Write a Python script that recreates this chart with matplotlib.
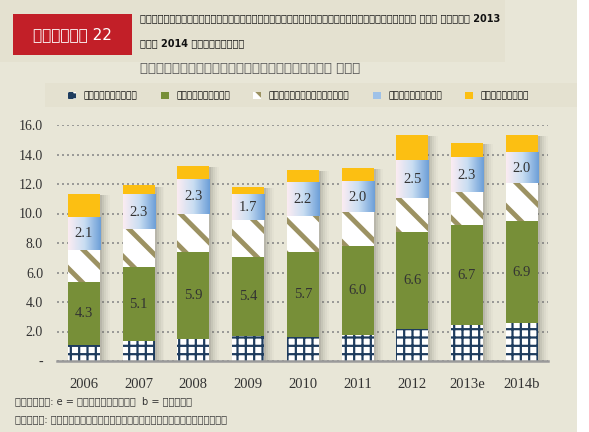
import numpy as np
import matplotlib
matplotlib.use('Agg')
import matplotlib.pyplot as plt
from matplotlib.colors import LinearSegmentedColormap
from matplotlib.patches import Rectangle, Patch

# --- data ---------------------

years = ['2006', '2007', '2008', '2009', '2010', '2011', '2012', '2013e', '2014b']

direct_tax = [1.06, 1.36, 1.49, 1.70, 1.63, 1.77, 2.17, 2.42, 2.56]
indirect_tax = [4.30, 5.00, 5.90, 5.35, 5.75, 6.00, 6.56, 6.79, 6.92]
trade_tax = [2.17, 2.58, 2.58, 2.51, 2.44, 2.31, 2.31, 2.24, 2.58]
non_tax = [2.18, 2.31, 2.37, 1.71, 2.26, 2.04, 2.51, 2.31, 2.04]
other = [1.62, 0.66, 0.89, 0.54, 0.86, 0.95, 1.77, 1.02, 1.22]

indirect_labels = ['4.3', '5.1', '5.9', '5.4', '5.7', '6.0', '6.6', '6.7', '6.9']
non_tax_labels = ['2.1', '2.3', '2.3', '1.7', '2.2', '2.0', '2.5', '2.3', '2.0']

series_names = ['ពន្ធផ្ទាល់', 'ពន្ធប្រយោល', 'ពន្ធពាណិជ្ជកម្ម', 'មិនមែនពន្ធ', 'ក្រៅពីនេះ']

fig_label = 'រូបលេខ 22'
title_1 = 'កំណើនចំណូលក្នុងស្រុកទាបធ្វើឲ្យអនុបាតចំណូលធៀបនឹង ផសស ឆ្នាំ 2013'
title_2 = 'និង 2014 ធ្លាក់ចុះ'
subtitle = 'សមាសភាគចំណូលគិតជាភាគរយនៃ ផសស'
note = 'សំគាល់: e = ប៉ាន់ស្មាន  b = ថវិកា'
source = 'ប្រភព: ក្រសួងសេដ្ឋកិច្ចនិងហិរញ្ញវត្ថុ'

# --- style ---------------------

bg = '#e8e6d7'
navy = '#1e3c5e'
green = '#778f38'
khaki = '#9c9262'
yellow = '#fcbf12'
red = '#c21f28'
serif = 'Liberation Serif'

plt.rcParams['hatch.linewidth'] = 3.5


def hatch_lw(patches, lw):
	# per-patch hatch width (newer matplotlib only)
	for p in patches:
		try:
			p.set_hatch_linewidth(lw)
		except AttributeError:
			pass


fig = plt.figure(figsize=(5.89, 4.32), dpi=100)
fig.patch.set_facecolor('white')

# panel backgrounds
fig.patches.append(Rectangle((0, 0), 577/589, 1, transform=fig.transFigure,
	facecolor=bg, edgecolor='none', zorder=-10))
fig.patches.append(Rectangle((0, 1 - 62/432), 505/589, 62/432, transform=fig.transFigure,
	facecolor='#e4e1d0', edgecolor='none', zorder=-9))
fig.patches.append(Rectangle((45/589, 1 - 107/432), 532/589, 24/432, transform=fig.transFigure,
	facecolor='#e4e1d0', edgecolor='none', zorder=-9))

# header
fig.patches.append(Rectangle((13/589, 1 - 55/432), 119/589, 41/432, transform=fig.transFigure,
	facecolor=red, edgecolor='none', zorder=1))
fig.text(72/589, 1 - 35/432, fig_label, color='white', fontsize=11,
	ha='center', va='center')
fig.text(140/589, 1 - 18/432, title_1, fontsize=7, fontweight='bold',
	ha='left', va='center', color='#111111')
fig.text(140/589, 1 - 43/432, title_2, fontsize=7, fontweight='bold',
	ha='left', va='center', color='#111111')
fig.text(140/589, 1 - 68/432, subtitle, fontsize=9.5,
	ha='left', va='center', color='#555555')

# --- axes ---------------------

ax = fig.add_axes([57/589, 1 - 361/432, 491/589, 236/432])
ax.set_facecolor('none')

x = np.arange(len(years))
w = 0.585

bottoms = np.zeros(len(years))
totals = np.array(direct_tax) + np.array(indirect_tax) + np.array(trade_tax) \
	+ np.array(non_tax) + np.array(other)

# shadows
for k, a in enumerate([0.12, 0.09, 0.07, 0.05, 0.03]):
	ax.bar(x + 0.04 + 0.035*k, totals, w, bottom=-0.08, color='#5a5a50',
		alpha=a, zorder=1, linewidth=0)

b1 = ax.bar(x, direct_tax, w, color='white', edgecolor=navy, hatch='++',
	linewidth=0, zorder=3)
hatch_lw(b1.patches, 1.6)
bottoms += direct_tax
b2 = ax.bar(x, indirect_tax, w, bottom=bottoms, color=green, linewidth=0, zorder=3)
bottoms += indirect_tax
b3 = ax.bar(x, trade_tax, w, bottom=bottoms, color='white', edgecolor=khaki,
	hatch='\\', linewidth=0, zorder=3)
hatch_lw(b3.patches, 3.5)
bottoms += trade_tax
b4 = ax.bar(x, non_tax, w, bottom=bottoms, color='#9fc2e8', linewidth=0, zorder=3)
bottoms += non_tax
b5 = ax.bar(x, other, w, bottom=bottoms, color=yellow, linewidth=0, zorder=3)

# gradient fill for non-tax segments
cmap = LinearSegmentedColormap.from_list('nt', ['#fbecf2', '#c9def2', '#6d9fd8'])
grad = np.linspace(0, 1, 64).reshape(1, -1)
for p in b4.patches:
	ax.imshow(grad, cmap=cmap, aspect='auto', zorder=3.5,
		extent=[p.get_x(), p.get_x() + p.get_width(), p.get_y(), p.get_y() + p.get_height()])

ax.bar_label(b2, labels=indirect_labels, label_type='center', fontfamily=serif,
	fontsize=10.5, color='#333333')
ax.bar_label(b4, labels=non_tax_labels, label_type='center', fontfamily=serif,
	fontsize=10.5, color='#333333')
for t in ax.texts:
	t.set_zorder(5)

ax.set_xlim(-0.49, 8.48)
ax.set_ylim(0, 16)
ax.set_yticks(np.arange(0, 17, 2))
ax.set_yticklabels(['-'] + ['%.1f' % v for v in np.arange(2, 17, 2)])
ax.set_xticks(x)
ax.set_xticklabels(years)
for lbl in ax.get_xticklabels() + ax.get_yticklabels():
	lbl.set_fontfamily(serif)
	lbl.set_color('#333333')
ax.tick_params(axis='x', length=0, labelsize=10.5, pad=12)
ax.tick_params(axis='y', length=0, labelsize=10, pad=10)

ax.yaxis.grid(True, linestyle=(0, (1.2, 1.8)), color='#8c8c8c', linewidth=1.2, zorder=0)
ax.set_axisbelow(True)
for s in ['top', 'right', 'left']:
	ax.spines[s].set_visible(False)
ax.spines['bottom'].set_color('#9a9a9a')
ax.spines['bottom'].set_linewidth(1.8)
ax.spines['bottom'].set_zorder(4)

# --- legend ---------------------

handles = [
	Patch(facecolor='white', edgecolor=navy, hatch='++', linewidth=0),
	Patch(facecolor=green, linewidth=0),
	Patch(facecolor='white', edgecolor=khaki, hatch='\\', linewidth=0),
	Patch(facecolor='#9fc2e8', linewidth=0),
	Patch(facecolor=yellow, linewidth=0)]
hatch_lw([handles[0]], 1.6)
hatch_lw([handles[2]], 3.5)
fig.legend(handles, series_names, ncol=5, loc='center left',
	bbox_to_anchor=(60/589, 1 - 96/432), frameon=False, fontsize=6.5,
	handlelength=0.9, handleheight=0.9, columnspacing=2.6, handletextpad=0.8)

# --- footer ---------------------

fig.text(15/589, 1 - 401/432, note, fontsize=7, color='#333333', va='center')
fig.text(15/589, 1 - 419/432, source, fontsize=7, color='#333333', va='center')

fig.savefig('out.png', dpi=100, facecolor=fig.get_facecolor())
plt.close()
